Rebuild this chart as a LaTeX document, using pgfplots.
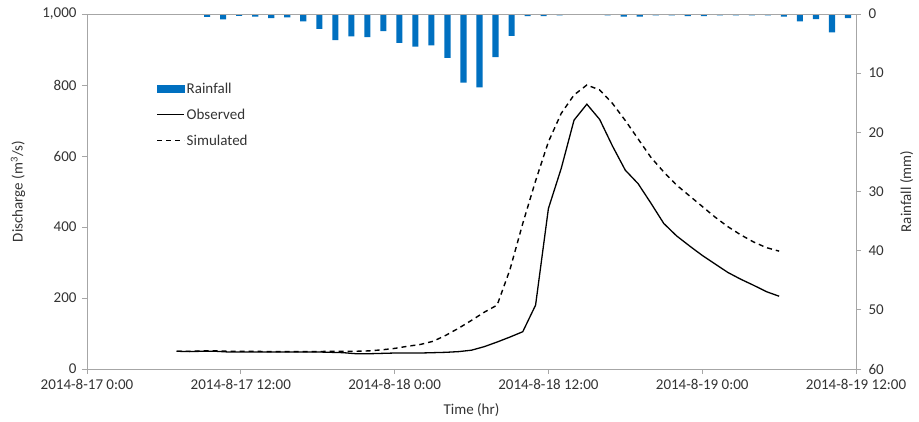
\documentclass[border=0pt]{standalone}
\usepackage{pgfplots}
\pgfplotsset{compat=1.18}
\usepackage{fontspec}
\setmainfont{Carlito}
\definecolor{barblue}{HTML}{0070C0}
\definecolor{axgray}{HTML}{A6A6A6}
\definecolor{txt}{HTML}{333333}

\pgfplotstableread{
x y
7.5 0.5
8.5 0.9
9.5 0.3
10.5 0.45
11.5 0.7
12.5 0.55
13.5 1.25
14.5 2.5
15.5 4.4
16.5 3.8
17.5 3.9
18.5 2.9
19.5 4.9
20.5 5.5
21.5 5.3
22.5 7.4
23.5 11.6
24.5 12.4
25.5 7.3
26.5 3.7
27.5 0.35
28.5 0.35
29.5 0.25
30.5 0
31.5 0
32.5 0.25
33.5 0.45
34.5 0.45
35.5 0.25
36.5 0.25
37.5 0.35
38.5 0.35
39.5 0.25
40.5 0.25
41.5 0.25
42.5 0.25
43.5 0.45
44.5 1.25
45.5 0.85
46.5 3.1
47.5 0.7
}\rain

\pgfplotstableread{
t obs sim
7 50 50
8 49 50
9 50 51
10 50 51
11 48 50
12 48 50
13 48 50
14 48 49
15 48 49
16 48 49
17 48 49
18 48 49
19 47 50
20 46 50
21 43 50
22 43 51
23 44 54
24 45 58
25 45 64
26 45 69
27 46 78
28 47 95
29 49 115
30 53 137
31 63 160
32 76 180
33 90 280
34 105 410
35 180 530
36 452 640
37 565 720
38 701 772
39 746 800
40 703 786
41 628 748
42 560 700
43 522 648
44 467 596
45 410 555
46 375 518
47 347 488
48 320 458
49 296 428
50 272 401
51 253 378
52 236 358
53 218 342
54 205 332
}\flow

\begin{document}
\begin{tikzpicture}
\pgfplotsset{
  every axis/.append style={
    scale only axis, width=769pt, height=355pt,
    font=\fontsize{15}{18}\selectfont,
    /pgf/number format/assume math mode=true,
    /pgf/number format/1000 sep={,},
    axis line style={axgray, line width=0.8pt},
    tick style={axgray, line width=0.8pt},
    tick align=outside,
    major tick length=5pt,
    ticklabel style={text=txt},
    label style={text=txt},
  }
}
% rainfall axis (secondary, reversed)
\begin{axis}[
  xmin=0, xmax=48, ymin=0, ymax=60, y dir=reverse,
  xtick=\empty,
  ytick={0,10,...,60},
  ytick pos=right, yticklabel pos=right,
  ylabel={Rainfall (mm)},
  ylabel style={at={(axis description cs:1.066,0.5)}, anchor=center},
  yticklabel style={xshift=4pt},
]
\addplot[ybar, bar width=0.38, bar shift=0pt, fill=barblue, draw=none] table[x=x,y=y] {\rain};
\end{axis}
% discharge axis
\begin{axis}[
  xmin=0, xmax=60, ymin=0, ymax=1000,
  xtick={0,12,...,60},
  xticklabels={2014-8-17 0:00, 2014-8-17 12:00, 2014-8-18 0:00, 2014-8-18 12:00, 2014-8-19 0:00, 2014-8-19 12:00},
  xtick pos=bottom,
  ytick={0,200,...,1000},
  ytick pos=left,
  xlabel={Time (hr)},
  xlabel style={at={(axis description cs:0.5,-0.1155)}, anchor=center},
  ylabel={Discharge (m\textsuperscript{3}/s)},
  ylabel style={at={(axis description cs:-0.0897,0.5)}, anchor=center},
  yticklabel style={xshift=-2pt},
  xticklabel style={yshift=-2pt},
  legend style={at={(0.086,0.818)}, anchor=north west, draw=none, fill=none,
    font=\fontsize{15}{18}\selectfont, row sep=10pt, text=txt},
  legend cell align=left,
  legend image code/.code={\draw[#1] (0pt,0pt) -- (27pt,0pt);},
]
\addlegendimage{legend image code/.code={\fill[barblue] (0pt,-3.5pt) rectangle (27pt,3.5pt);}}
\addlegendentry{Rainfall}
\addplot[black, line width=1.3pt] table[x=t,y=obs] {\flow};
\addlegendentry{Observed}
\addplot[black, line width=1.4pt, dash pattern=on 5pt off 4pt] table[x=t,y=sim] {\flow};
\addlegendentry{Simulated}
\end{axis}
\pgfresetboundingbox
\path ([xshift=-87pt,yshift=-53pt]current axis.south west) rectangle ([xshift=63pt,yshift=14pt]current axis.north east);
\end{tikzpicture}
\end{document}
